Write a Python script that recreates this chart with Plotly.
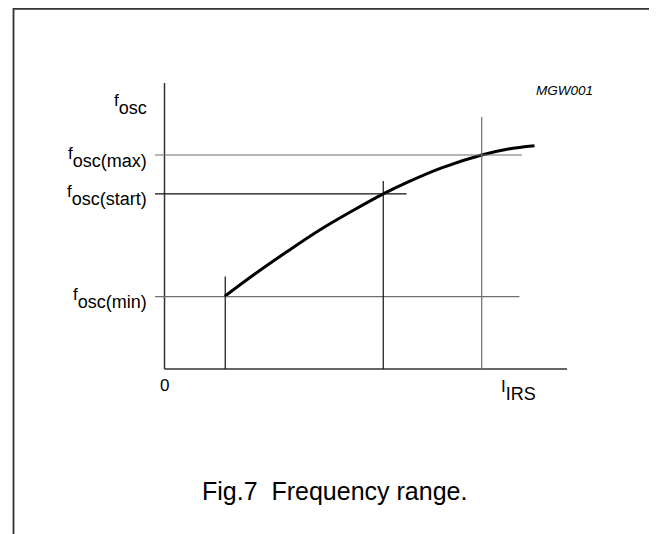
import plotly.graph_objects as go

# ---- data (arbitrary units) ----
curve_I = [1.52, 2.24, 3.08, 3.9, 4.76, 5.51, 6.14, 6.98, 7.99, 8.66, 9.32]
curve_f = [1.82, 2.35, 2.93, 3.47, 3.97, 4.38, 4.68, 5.03, 5.35, 5.5, 5.58]

I_levels = [1.53, 5.51, 7.99]        # I(min), I(start), I(max)
I_tops = [2.31, 4.7, 6.3]            # how far each vertical marker rises
f_levels = [1.81, 4.38, 5.35]        # fosc(min), fosc(start), fosc(max)
f_ends = [8.94, 6.1, 9.0]            # where each horizontal marker stops
f_labels = ["osc(min)", "osc(start)", "osc(max)"]
level_colors = ["#6e6e6e", "#111111", "#6e6e6e"]
v_colors = ["#111111", "#111111", "#6e6e6e"]

x_axis_end = 10.14
y_axis_top = 7.15

W, H = 657, 534
OFF = 8.0                      # page margin of the browser
X0_PX, KX = 164.5, 39.7        # screen position of the origin / px per unit
Y0_PX, KY = 369.0, 40.0
FONT = "Liberation Sans, Arial, sans-serif"


def px_x(p):
    return (p - X0_PX) / KX


def px_y(p):
    return (Y0_PX - p) / KY


def paper_x(p):
    return (p - OFF) / W


def paper_y(p):
    return 1 - (p - OFF) / H


fig = go.Figure()

# the curve
fig.add_trace(go.Scatter(x=curve_I, y=curve_f, mode="lines",
                         line=dict(color="black", width=3, shape="spline", smoothing=1.0),
                         hoverinfo="skip", showlegend=False))

shapes = []
# axes
shapes.append(dict(type="line", xref="x", yref="y", x0=0, x1=0, y0=0, y1=y_axis_top,
                   line=dict(color="#333333", width=1.5)))
shapes.append(dict(type="line", xref="x", yref="y", x0=0, x1=x_axis_end, y0=0, y1=0,
                   line=dict(color="#333333", width=1.5)))
# horizontal level lines
for fv, fe, c in zip(f_levels, f_ends, level_colors):
    shapes.append(dict(type="line", xref="x", yref="y", x0=px_x(155), x1=fe, y0=fv, y1=fv,
                       line=dict(color=c, width=1.2)))
# vertical markers
for iv, it, c in zip(I_levels, I_tops, v_colors):
    shapes.append(dict(type="line", xref="x", yref="y", x0=iv, x1=iv, y0=0, y1=it,
                       line=dict(color=c, width=1.2)))
# frame (open at the bottom)
shapes.append(dict(type="path", xref="paper", yref="paper",
                   path=(f"M {paper_x(13.5)} 0 L {paper_x(13.5)} {paper_y(8.8)} "
                         f"L {paper_x(654)} {paper_y(8.8)} L {paper_x(654)} 0"),
                   line=dict(color="#333333", width=1.8)))

annotations = []
for fv, lab in zip(f_levels, f_labels):
    annotations.append(dict(x=px_x(149), y=fv, xref="x", yref="y", xanchor="right", yanchor="middle",
                            yshift=-2, showarrow=False,
                            text="<sup><span style='font-size:17px'>f</span></sup>" + lab,
                            font=dict(family=FONT, size=18, color="black")))
annotations.append(dict(x=px_x(149), y=px_y(104), xref="x", yref="y", xanchor="right", yanchor="middle",
                        showarrow=False,
                        text="<sup><span style='font-size:17px'>f</span></sup>osc",
                        font=dict(family=FONT, size=18, color="black")))
annotations.append(dict(x=px_x(499), y=px_y(390), xref="x", yref="y", xanchor="left", yanchor="middle",
                        showarrow=False,
                        text="<sup><span style='font-size:17px'>I</span></sup>IRS",
                        font=dict(family=FONT, size=18, color="black")))
annotations.append(dict(x=0, y=px_y(385), xref="x", yref="y", xanchor="center", yanchor="middle",
                        showarrow=False, text="0",
                        font=dict(family=FONT, size=17, color="black")))
annotations.append(dict(x=px_x(595), y=px_y(90.5), xref="x", yref="y", xanchor="right", yanchor="middle",
                        showarrow=False, text="<i>MGW001</i>",
                        font=dict(family=FONT, size=13.5, color="black")))
annotations.append(dict(x=px_x(334), y=px_y(491), xref="x", yref="y", xanchor="center", yanchor="middle",
                        showarrow=False, text="Fig.7  Frequency range.",
                        font=dict(family=FONT, size=25, color="black")))

fig.update_layout(
    width=W, height=H,
    margin=dict(l=0, r=0, t=0, b=0),
    paper_bgcolor="white", plot_bgcolor="white",
    xaxis=dict(range=[px_x(OFF), px_x(OFF + W)], visible=False, fixedrange=True),
    yaxis=dict(range=[px_y(OFF + H), px_y(OFF)], visible=False, fixedrange=True),
    shapes=shapes, annotations=annotations,
    showlegend=False,
)

fig.write_html("out.html")
